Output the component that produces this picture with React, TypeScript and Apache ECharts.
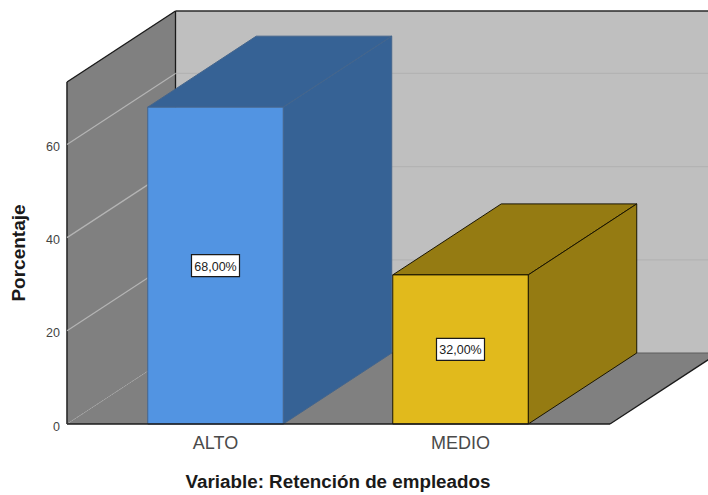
import React, { useEffect, useRef } from "react";
import * as echarts from "echarts";

const categories = ["ALTO", "MEDIO"];
const percentages = [68, 32];
const tickValues = [0, 20, 40, 60];
const axisTop = 73.4;

const frontColors = ["#5294e2", "#e1ba1c"];
const shadeColors = ["#366295", "#957b12"];
const edgeColors = ["#44658c", "#1a1500"];

// Oblique projection used for the box depth, in pixels.
const DEPTH_X = 108.5;
const DEPTH_Y = -71;
// The frame reaches past the band of the category axis on both sides.
const FRAME_LEFT = 67;
const FRAME_RIGHT = 610;
const BAR_RATIO = 0.553;
const FONT = '"Liberation Sans", Arial, sans-serif';

const poly = (points: number[][], fill: string, stroke?: string, lineWidth = 1) => ({
  type: "polygon",
  shape: { points },
  style: { fill, stroke: stroke ?? "none", lineWidth },
});

const seg = (
  a: number[],
  b: number[],
  stroke: string,
  lineWidth = 1,
  lineDash?: number[],
) => ({
  type: "line",
  shape: { x1: a[0], y1: a[1], x2: b[0], y2: b[1] },
  style: { stroke, lineWidth, lineDash },
});

const renderWalls = (_: any, api: any) => {
  const yBase = api.coord([0, 0])[1];
  const yTop = api.coord([0, axisTop])[1];
  const backL = FRAME_LEFT + DEPTH_X;
  const backR = FRAME_RIGHT + DEPTH_X;
  return {
    type: "group",
    children: [
      poly(
        [
          [backL, yTop + DEPTH_Y],
          [backR, yTop + DEPTH_Y],
          [backR, yBase + DEPTH_Y],
          [backL, yBase + DEPTH_Y],
        ],
        "#bfbfbf",
      ),
      poly(
        [
          [FRAME_LEFT, yTop],
          [backL, yTop + DEPTH_Y],
          [backL, yBase + DEPTH_Y],
          [FRAME_LEFT, yBase],
        ],
        "#808080",
      ),
      poly(
        [
          [FRAME_LEFT, yBase],
          [FRAME_RIGHT, yBase],
          [backR, yBase + DEPTH_Y],
          [backL, yBase + DEPTH_Y],
        ],
        "#808080",
      ),
      seg([backL, yBase + DEPTH_Y], [backR, yBase + DEPTH_Y], "#5c5c5c", 1),
      seg([FRAME_LEFT, yTop], [backL, yTop + DEPTH_Y], "#1a1a1a", 1.4),
      seg([backL, yTop + DEPTH_Y], [backR, yTop + DEPTH_Y], "#2a2a2a", 1.4),
      seg([backL, yTop + DEPTH_Y], [backL, yBase + DEPTH_Y], "#1a1a1a", 1.3),
      seg([FRAME_LEFT, yTop], [FRAME_LEFT, yBase], "#2a2a2a", 1.6),
      seg([FRAME_RIGHT, yBase], [backR, yBase + DEPTH_Y], "#1a1a1a", 1.3),
    ],
  };
};

const renderGridLines = (_: any, api: any) => {
  const value = api.value(0);
  const y = api.coord([0, value])[1];
  const front = [FRAME_LEFT, y];
  const corner = [FRAME_LEFT + DEPTH_X, y + DEPTH_Y];
  if (value === 0) {
    return { type: "group", children: [seg(front, corner, "#a8a8a8", 1, [1, 2])] };
  }
  return {
    type: "group",
    children: [
      seg(front, corner, "#b4b4b4", 1.2),
      seg(corner, [FRAME_RIGHT + DEPTH_X, corner[1]], "#b3b3b3", 1.2),
    ],
  };
};

const renderBars = (params: any, api: any) => {
  const i = params.dataIndex;
  const value = api.value(1);
  const top = api.coord([api.value(0), value]);
  const base = api.coord([api.value(0), 0]);
  const width = api.size([1, 0])[0] * BAR_RATIO;
  const l = top[0] - width / 2;
  const r = top[0] + width / 2;
  const edge = edgeColors[i];
  const label = `${value.toFixed(2).replace(".", ",")}%`;
  const midY = (top[1] + base[1]) / 2;
  return {
    type: "group",
    children: [
      poly(
        [
          [l, top[1]],
          [r, top[1]],
          [r + DEPTH_X, top[1] + DEPTH_Y],
          [l + DEPTH_X, top[1] + DEPTH_Y],
        ],
        shadeColors[i],
        edge,
      ),
      poly(
        [
          [r, top[1]],
          [r + DEPTH_X, top[1] + DEPTH_Y],
          [r + DEPTH_X, base[1] + DEPTH_Y],
          [r, base[1]],
        ],
        shadeColors[i],
        edge,
      ),
      poly(
        [
          [l, top[1]],
          [r, top[1]],
          [r, base[1]],
          [l, base[1]],
        ],
        frontColors[i],
        edge,
      ),
      {
        type: "rect",
        shape: { x: top[0] - 24, y: midY - 11, width: 48, height: 22 },
        style: { fill: "#ffffff", stroke: "#1a1a1a", lineWidth: 1.2 },
      },
      {
        type: "text",
        x: top[0],
        y: midY + 1,
        style: {
          text: label,
          fill: "#222222",
          font: `12.5px ${FONT}`,
          align: "center",
          verticalAlign: "middle",
        },
      },
    ],
  };
};

const renderBaseline = (_: any, api: any) => {
  const y = api.coord([0, 0])[1];
  return seg([FRAME_LEFT, y], [FRAME_RIGHT, y], "#1a1a1a", 1.4);
};

export default function App() {
  const ref = useRef<HTMLDivElement>(null);

  useEffect(() => {
    if (!ref.current) return;
    const chart = echarts.init(ref.current, undefined, { renderer: "svg" });
    chart.setOption({
      animation: false,
      backgroundColor: "#ffffff",
      tooltip: { show: false },
      grid: { left: 93, right: 125, top: 82, bottom: 71, outerBoundsMode: "none" },
      xAxis: {
        type: "category",
        data: categories,
        name: "Variable: Retención de empleados",
        nameLocation: "middle",
        nameGap: 48,
        nameTextStyle: { fontFamily: FONT, fontWeight: "bold", fontSize: 18.8, color: "#1a1a1a" },
        axisLine: { show: false },
        axisTick: { show: false },
        axisLabel: { fontFamily: FONT, fontSize: 18, color: "#4a4a4a", margin: 10 },
      },
      yAxis: {
        type: "value",
        min: 0,
        max: axisTop,
        offset: 26,
        name: "Porcentaje",
        nameLocation: "middle",
        nameGap: 39,
        nameTextStyle: { fontFamily: FONT, fontWeight: "bold", fontSize: 19, color: "#1a1a1a" },
        splitLine: { show: false },
        axisLine: { show: false },
        axisTick: { show: false },
        axisLabel: {
          customValues: tickValues,
          fontFamily: FONT,
          fontSize: 12.5,
          color: "#444444",
          margin: 7,
          verticalAlign: "top",
          lineHeight: 5,
        },
      },
      series: [
        {
          type: "custom",
          silent: true,
          renderItem: renderWalls,
          data: [[0, 0]],
          encode: { x: 0, y: 1 },
          z: 1,
        },
        {
          type: "custom",
          silent: true,
          renderItem: renderGridLines,
          data: tickValues.map((t) => [t]),
          encode: { y: 0 },
          z: 2,
        },
        {
          type: "custom",
          silent: true,
          renderItem: renderBars,
          data: percentages.map((v, i) => [i, v]),
          encode: { x: 0, y: 1 },
          z: 3,
        },
        {
          type: "custom",
          silent: true,
          renderItem: renderBaseline,
          data: [[0, 0]],
          encode: { x: 0, y: 1 },
          z: 4,
        },
      ],
    });
    return () => chart.dispose();
  }, []);

  return (
    <div
      ref={ref}
      style={{ position: "absolute", left: 0, top: 0, width: 708, height: 495 }}
    />
  );
}
